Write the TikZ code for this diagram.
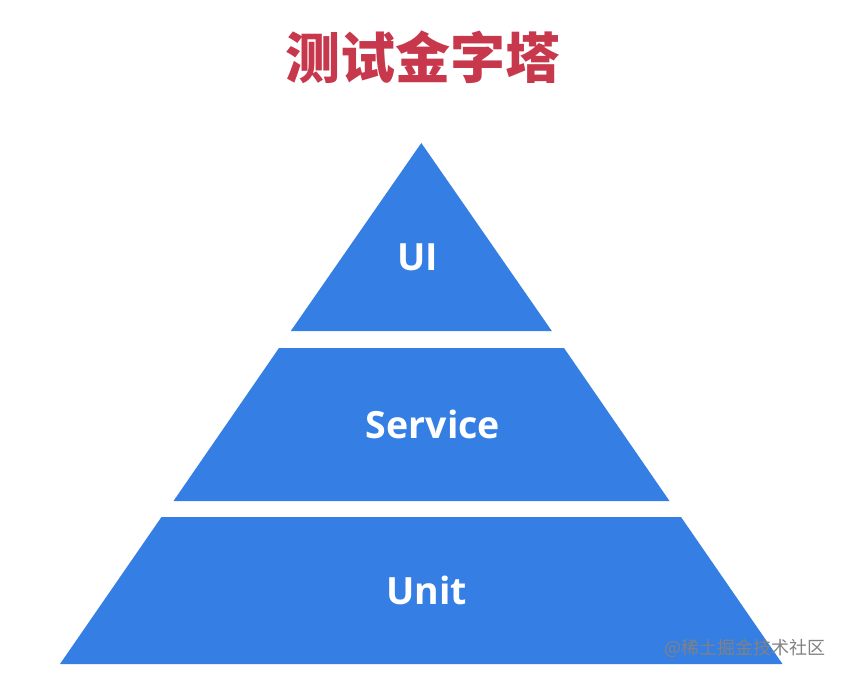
\documentclass[tikz,border=0pt]{standalone}
\usepackage{fontspec}
\setmainfont{Open Sans}
\newfontfamily\cjk{Noto Sans CJK SC}
\definecolor{pyrblue}{RGB}{52,126,228}
\definecolor{titlered}{RGB}{200,56,76}
\definecolor{markgray}{RGB}{130,130,130}
\begin{document}
\begin{tikzpicture}[x=1pt,y=-1pt,
  layer/.style={fill=pyrblue,draw=none},
  layerlabel/.style={text=white,font=\fontsize{37.5}{42}\selectfont\bfseries,inner sep=0pt,anchor=center},
  titletext/.style={text=titlered,font=\cjk\fontsize{55}{60}\selectfont\bfseries,inner sep=0pt,anchor=center},
  marktext/.style={text=markgray,font=\cjk\fontsize{18}{20}\selectfont,inner sep=0pt,anchor=east}]
\useasboundingbox (0,0) rectangle (846,679);
\fill[white] (0,0) rectangle (846,679);
% layers
\fill[layer] (421.3,143) -- (551.8,331) -- (290.8,331) -- cycle;
\fill[layer] (279,348) -- (564,348) -- (669.5,501) -- (173.5,501) -- cycle;
\fill[layer] (161.5,517) -- (681,517) -- (782.5,664) -- (60,664) -- cycle;
% labels
\node[titletext] (title) at (423,57) {测试金字塔};
\node[layerlabel] (ui) at (417.5,257.5) {UI};
\node[layerlabel] (service) at (433,424.5) {Service};
\node[layerlabel] (unit) at (426.7,590.5) {Unit};
\node[marktext] (mark) at (826,648) {@稀土掘金技术社区};
\end{tikzpicture}
\end{document}
